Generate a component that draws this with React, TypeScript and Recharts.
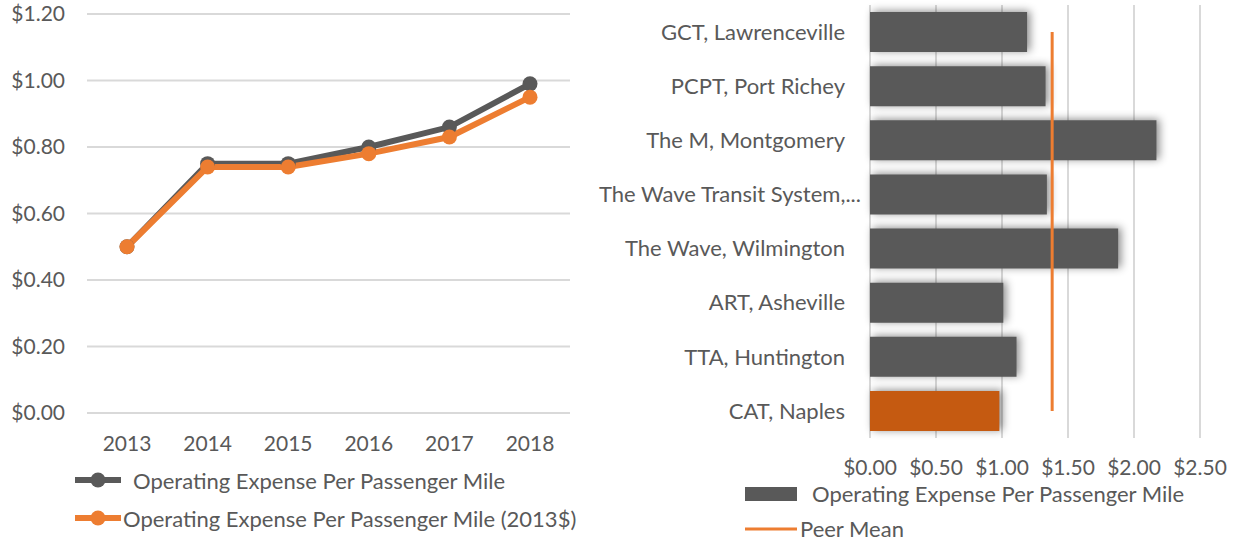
import React from 'react'
import {
  LineChart,
  Line,
  XAxis,
  YAxis,
  CartesianGrid,
  Legend,
  ComposedChart,
  Bar,
  Cell,
  Rectangle,
} from 'recharts'

const years = ['2013', '2014', '2015', '2016', '2017', '2018']
const opExpense = [0.5, 0.75, 0.75, 0.8, 0.86, 0.99]
const opExpense2013 = [0.5, 0.74, 0.74, 0.78, 0.83, 0.95]
const yTicks = [0, 0.2, 0.4, 0.6, 0.8, 1.0, 1.2]

const agencies = [
  'GCT, Lawrenceville',
  'PCPT, Port Richey',
  'The M, Montgomery',
  'The Wave Transit System,...',
  'The Wave, Wilmington',
  'ART, Asheville',
  'TTA, Huntington',
  'CAT, Naples',
]
const agencyValues = [1.19, 1.33, 2.17, 1.34, 1.88, 1.01, 1.11, 0.98]
const peerMean = 1.38
const xTicks = [0, 0.5, 1, 1.5, 2, 2.5]

const GRAY = '#595959'
const ORANGE = '#ED7D31'
const DARK_ORANGE = '#C55A11'
const GRID = '#D9D9D9'
const TEXT = '#595959'
const FONT = 21
const LABEL_FONT = 22

const lineData = years.map((year, i) => ({
  year,
  nominal: opExpense[i],
  real: opExpense2013[i],
}))

const barData = agencies.map((agency, i) => ({
  agency,
  value: agencyValues[i],
  peerMean,
}))

const money = (v: number) => `$${v.toFixed(2)}`

function LineLegend({ payload }: any) {
  return (
    <div>
      {(payload || []).map((p: any, i: number) => (
        <div key={i} style={{ display: 'flex', alignItems: 'center', height: 38 }}>
          <svg width={46} height={16}>
            <line x1={0} y1={8} x2={46} y2={8} stroke={p.color} strokeWidth={6} />
            <circle cx={23} cy={8} r={7.5} fill={p.color} />
          </svg>
          <span style={{ marginLeft: i === 0 ? 12 : 2, color: TEXT, fontSize: LABEL_FONT }}>
            {p.value}
          </span>
        </div>
      ))}
    </div>
  )
}

function BarLegend({ payload }: any) {
  return (
    <div>
      {(payload || []).map((p: any, i: number) => (
        <div key={i} style={{ display: 'flex', alignItems: 'center', height: 35 }}>
          <svg width={52} height={14}>
            {p.type === 'rect' ? (
              <rect x={0} y={0} width={52} height={14} fill={p.color} />
            ) : (
              <line x1={0} y1={7} x2={52} y2={7} stroke={p.color} strokeWidth={3} />
            )}
          </svg>
          <span style={{ marginLeft: i === 0 ? 15 : 3, color: TEXT, fontSize: LABEL_FONT }}>
            {p.value}
          </span>
        </div>
      ))}
    </div>
  )
}

// the truncated label runs a little further right, as the original does
function AgencyTick({ x, y, payload }: any) {
  const shift = String(payload.value).endsWith('...') ? 16 : 0
  return (
    <text x={x + shift} y={y} dy="0.355em" textAnchor="end" fill={TEXT} fontSize={LABEL_FONT}>
      {payload.value}
    </text>
  )
}

function ShadowBar(props: any) {
  return (
    <Rectangle
      {...props}
      style={{ filter: 'drop-shadow(3px -1px 4px rgba(0,0,0,0.45))' }}
    />
  )
}

export default function App() {
  return (
    <div
      style={{
        position: 'absolute',
        left: 0,
        top: 0,
        width: 1236,
        height: 542,
        background: '#fff',
        fontFamily: 'Lato, sans-serif',
      }}
    >
      <div style={{ position: 'absolute', left: 0, top: 0 }}>
        <LineChart
          width={600}
          height={542}
          data={lineData}
          margin={{ top: 14, right: 30, left: 0, bottom: 99 }}
        >
          <CartesianGrid vertical={false} stroke={GRID} strokeWidth={2} />
          <XAxis
            dataKey="year"
            height={30}
            axisLine={false}
            tickLine={false}
            tickSize={0}
            tickMargin={23}
            padding={{ left: 40, right: 40 }}
            tick={{ fill: TEXT, fontSize: FONT }}
          />
          <YAxis
            width={87}
            domain={[0, 1.2]}
            ticks={yTicks}
            tickFormatter={money}
            axisLine={false}
            tickLine={false}
            tickSize={0}
            tickMargin={22}
            tick={{ fill: TEXT, fontSize: FONT }}
          />
          <Line
            dataKey="nominal"
            name="Operating Expense Per Passenger Mile"
            stroke={GRAY}
            strokeWidth={6}
            dot={{ r: 7.5, fill: GRAY, stroke: 'none' }}
            isAnimationActive={false}
          />
          <Line
            dataKey="real"
            name="Operating Expense Per Passenger Mile (2013$)"
            stroke={ORANGE}
            strokeWidth={6}
            dot={{ r: 7.5, fill: ORANGE, stroke: 'none' }}
            isAnimationActive={false}
          />
          <Legend
            layout="vertical"
            align="center"
            verticalAlign="middle"
            content={<LineLegend />}
            wrapperStyle={{ left: 75, top: 461, width: 520 }}
          />
        </LineChart>
      </div>
      <div style={{ position: 'absolute', left: 597, top: 0 }}>
        <ComposedChart
          layout="vertical"
          width={639}
          height={542}
          data={barData}
          margin={{ top: 5, right: 36, left: 0, bottom: 74 }}
          barCategoryGap="13%"
        >
          <CartesianGrid horizontal={false} stroke={GRID} strokeWidth={2} />
          <XAxis
            type="number"
            domain={[0, 2.5]}
            ticks={xTicks}
            tickFormatter={money}
            height={30}
            axisLine={false}
            tickLine={false}
            tickSize={0}
            tickMargin={22}
            tick={{ fill: TEXT, fontSize: FONT }}
          />
          <YAxis
            type="category"
            dataKey="agency"
            width={273}
            interval={0}
            axisLine={false}
            tickLine={false}
            tickSize={0}
            tickMargin={25}
            tick={<AgencyTick />}
          />
          <Bar
            dataKey="value"
            name="Operating Expense Per Passenger Mile"
            fill={GRAY}
            legendType="rect"
            shape={<ShadowBar />}
            isAnimationActive={false}
          >
            {barData.map((d, i) => (
              <Cell key={i} fill={d.agency === 'CAT, Naples' ? DARK_ORANGE : GRAY} />
            ))}
          </Bar>
          <Line
            dataKey="peerMean"
            name="Peer Mean"
            stroke={ORANGE}
            strokeWidth={3}
            dot={false}
            legendType="line"
            isAnimationActive={false}
          />
          <Legend
            layout="vertical"
            align="center"
            verticalAlign="middle"
            content={<BarLegend />}
            wrapperStyle={{ left: 148, top: 476, width: 480 }}
          />
        </ComposedChart>
      </div>
    </div>
  )
}
